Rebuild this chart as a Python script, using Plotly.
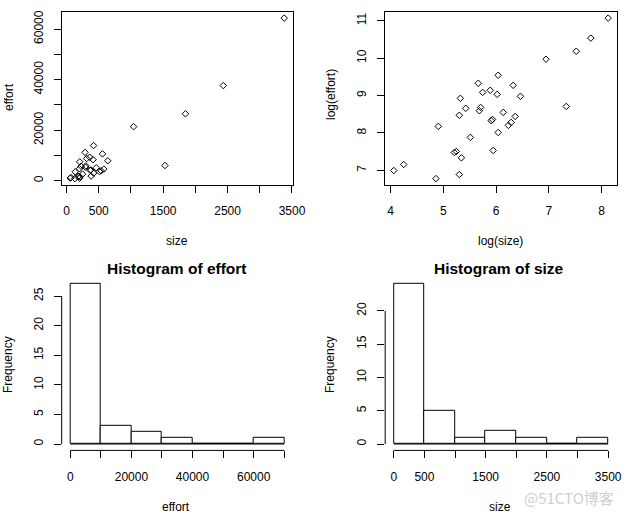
import numpy as np
import plotly.graph_objects as go

# project data
size = [58, 70, 129, 135, 183, 190, 201, 201, 205, 209, 227, 248, 288, 294, 301, 313, 361,
        368, 377, 382, 412, 420, 420, 462, 510, 537, 558, 580, 641, 1041, 1528, 1846, 2434, 3380]
effort = [1086, 1277, 876, 3545, 1762, 1810, 4770, 976, 7510, 1527, 5740, 2640, 11240, 5390,
          5890, 8810, 9310, 4120, 4270, 1860, 8350, 13920, 3010, 5150, 3640, 3940, 10640, 4630,
          7920, 21400, 6050, 26500, 37640, 64320]

# histogram bins / counts
effort_breaks = [0, 10000, 20000, 30000, 40000, 50000, 60000, 70000]
effort_counts = [27, 3, 2, 1, 0, 0, 1]
size_breaks = [0, 500, 1000, 1500, 2000, 2500, 3000, 3500]
size_counts = [24, 5, 1, 2, 1, 0, 1]

# tick labels (R drops the ones that would overlap)
size_ticks = [0, 500, 1000, 1500, 2000, 2500, 3000, 3500]
size_labels = ["0", "500", "", "1500", "", "2500", "", "3500"]
effort_ticks = [0, 10000, 20000, 30000, 40000, 50000, 60000]
effort_labels = ["0", "", "20000", "", "40000", "", "60000"]
hist_effort_ticks = [0, 10000, 20000, 30000, 40000, 50000, 60000, 70000]
hist_effort_labels = ["0", "", "20000", "", "40000", "", "60000", ""]
lsize_ticks = [4, 5, 6, 7, 8]
leffort_ticks = [7, 8, 9, 10, 11]
freq1_ticks = [0, 5, 10, 15, 20, 25]
freq2_ticks = [0, 5, 10, 15, 20]

W, H = 628, 515
FONT = "Liberation Sans, Arial, sans-serif"


def rng(v):
    lo, hi = min(v), max(v)
    pad = 0.04 * (hi - lo)
    return [lo - pad, hi + pad]


lsize = np.log(size)
leffort = np.log(effort)

fig = go.Figure()

pt = dict(mode="markers", showlegend=False,
          marker=dict(symbol="diamond-open", size=5, color="black", line=dict(width=1, color="black")))
fig.add_trace(go.Scatter(x=size, y=effort, xaxis="x", yaxis="y", **pt))
fig.add_trace(go.Scatter(x=lsize, y=leffort, xaxis="x2", yaxis="y2", **pt))


def hist(breaks, counts, xa, ya):
    mids = [(a + b) / 2 for a, b in zip(breaks[:-1], breaks[1:])]
    fig.add_trace(go.Bar(x=mids, y=counts, width=breaks[1] - breaks[0], xaxis=xa, yaxis=ya,
                         marker=dict(color="white", line=dict(color="black", width=1)),
                         showlegend=False))
    fig.add_trace(go.Scatter(x=[breaks[0], breaks[-1]], y=[0, 0], mode="lines", xaxis=xa, yaxis=ya,
                             line=dict(color="black", width=1), showlegend=False))


hist(effort_breaks, effort_counts, "x3", "y3")
hist(size_breaks, size_counts, "x4", "y4")

xl = [61.7 / W, 292.8 / W]
xr = [385.2 / W, 616.7 / W]
yt = [1 - 185 / H, 1 - 11.7 / H]
yb = [1 - 450.4 / H, 1 - 277.8 / H]

ax = dict(ticks="outside", ticklen=7, tickwidth=1, tickcolor="black", showgrid=False, zeroline=False,
          automargin=False, linecolor="black", linewidth=1,
          tickfont=dict(family=FONT, size=12, color="black"))
xbox = dict(ax, showline=True, mirror=True, ticklabelstandoff=8)
ybox = dict(ax, showline=True, mirror=True, tickangle=-90, ticklabelstandoff=6)
xh = dict(ax, showline=False, ticklabelstandoff=8)
yh = dict(ax, showline=False, tickangle=-90, ticklabelstandoff=6)

lay = dict(
    xaxis=dict(xbox, domain=xl, anchor="y", range=rng(size), tickvals=size_ticks, ticktext=size_labels),
    yaxis=dict(ybox, domain=yt, anchor="x", range=rng(effort), tickvals=effort_ticks, ticktext=effort_labels),
    xaxis2=dict(xbox, domain=xr, anchor="y2", range=rng(lsize), tickvals=lsize_ticks),
    yaxis2=dict(ybox, domain=yt, anchor="x2", range=rng(leffort), tickvals=leffort_ticks),
    xaxis3=dict(xh, domain=xl, anchor="y3", range=rng(effort_breaks), tickvals=hist_effort_ticks,
                ticktext=hist_effort_labels),
    yaxis3=dict(yh, domain=yb, anchor="x3", range=rng([0] + effort_counts), tickvals=freq1_ticks),
    xaxis4=dict(xh, domain=xr, anchor="y4", range=rng(size_breaks), tickvals=size_ticks, ticktext=size_labels),
    yaxis4=dict(yh, domain=yb, anchor="x4", range=rng([0] + size_counts), tickvals=freq2_ticks),
)

# R-style detached axis lines for the histograms
shapes = []
for xa, ya, xt, ytk in [("x3", "y3", hist_effort_ticks, freq1_ticks), ("x4", "y4", size_ticks, freq2_ticks)]:
    shapes.append(dict(type="line", xref=xa, yref=ya + " domain", x0=xt[0], x1=xt[-1], y0=0, y1=0,
                       line=dict(color="black", width=1)))
    shapes.append(dict(type="line", xref=xa + " domain", yref=ya, x0=0, x1=0, y0=ytk[0], y1=ytk[-1],
                       line=dict(color="black", width=1)))


def lab(text, x, y, angle=0, size=12, bold=False, color="black", family=FONT):
    return dict(text="<b>%s</b>" % text if bold else text, x=x / W, y=1 - y / H, xref="paper", yref="paper",
                showarrow=False, xanchor="center", yanchor="middle", textangle=angle,
                font=dict(family=family, size=size, color=color))


annotations = [
    lab("size", 177, 241),
    lab("effort", 9, 97, -90),
    lab("log(size)", 500, 241),
    lab("log(effort)", 331, 95, -90),
    lab("Histogram of effort", 177, 268, size=15.5, bold=True),
    lab("Histogram of size", 499, 268, size=15.5, bold=True),
    lab("Frequency", 8, 365, -90),
    lab("Frequency", 330, 365, -90),
    lab("effort", 176, 507),
    lab("size", 500, 507),
    lab("@51CTO博客", 569, 497, size=15, color="#cfcfcf", family="Noto Sans CJK SC"),
]

fig.update_layout(width=W, height=H, margin=dict(l=0, r=0, t=0, b=0, autoexpand=False),
                  plot_bgcolor="white", paper_bgcolor="white", shapes=shapes, annotations=annotations,
                  bargap=0, **lay)
# no body margin and no scrollbar, so the figure keeps its 628x515 size at the window's corner
fig.write_html("out.html", config={"displayModeBar": False, "responsive": False},
               post_script="document.documentElement.style.overflow='hidden';"
                           "document.body.style.margin='0px';document.body.style.overflow='hidden';")
